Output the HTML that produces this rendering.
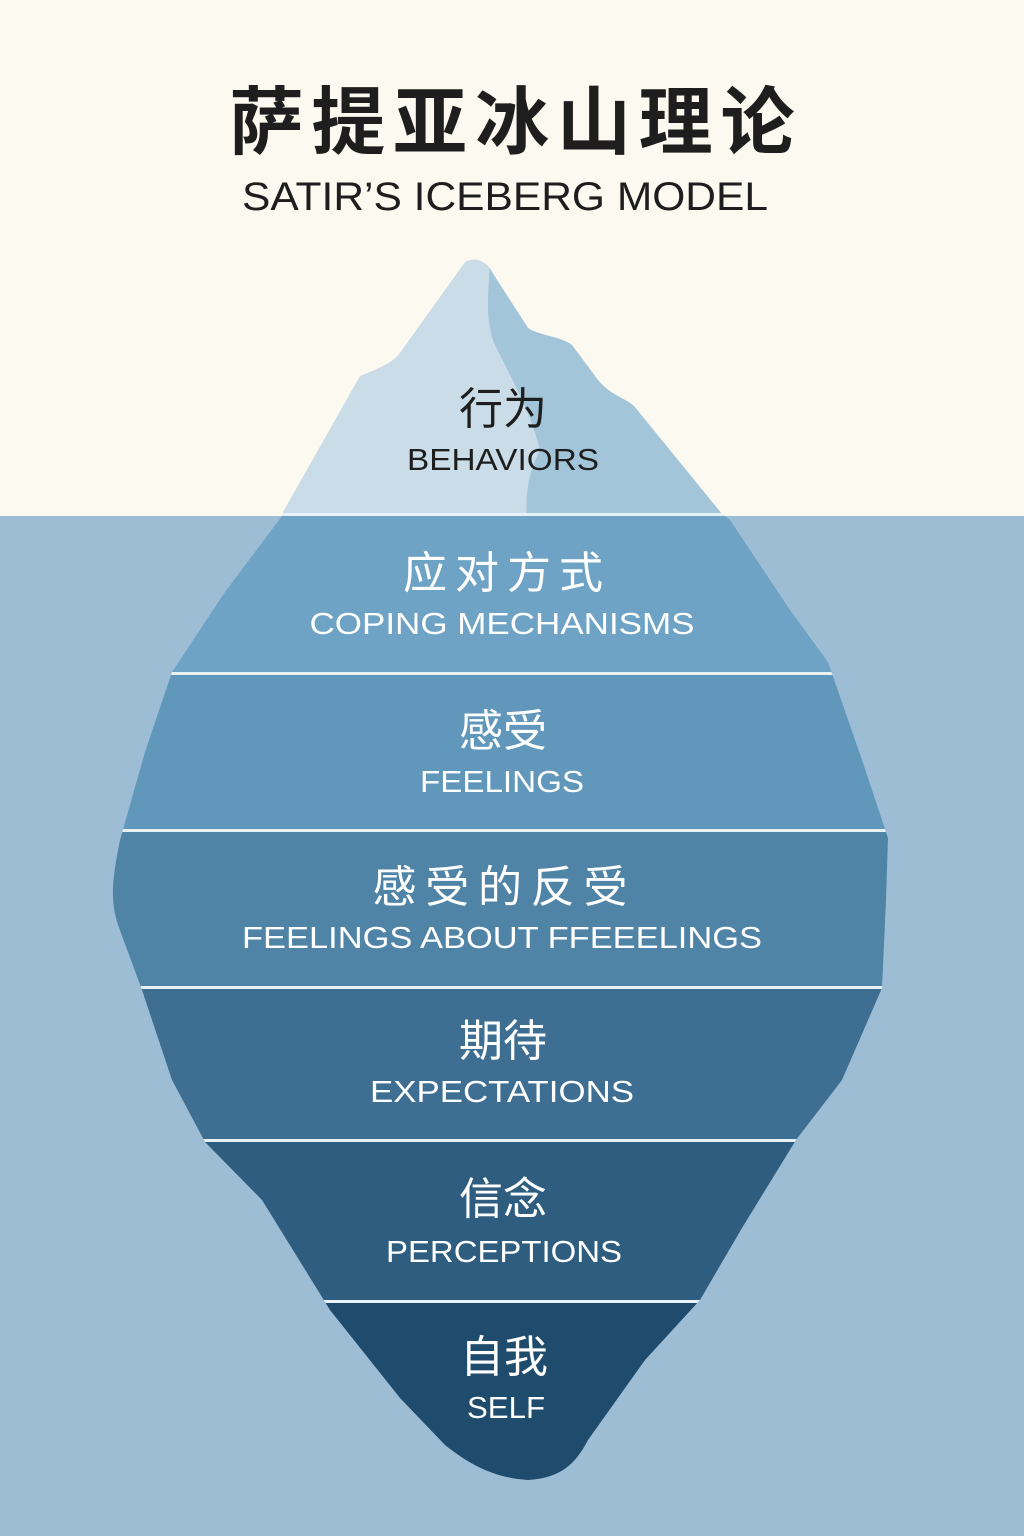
<!DOCTYPE html>
<html><head><meta charset="utf-8"><style>
html,body{margin:0;padding:0;width:1024px;height:1536px;overflow:hidden;background:#fcf9f0}
svg{display:block}
.cn{font-family:"Liberation Sans","Noto Sans CJK SC",sans-serif;text-anchor:middle}
.en{font-family:"Liberation Sans","Noto Sans CJK SC",sans-serif;text-anchor:middle}
</style></head><body>
<svg width="1024" height="1536" viewBox="0 0 1024 1536" xmlns="http://www.w3.org/2000/svg">
<defs>
<clipPath id="berg">
<path d="M465,262 C475,256 488,262 492,272 L528,328 C540,336 560,336 572,345 L598,380 C610,395 625,398 634,406 L722,514 L730,520 L790,610 L828,662 L862,760 L888,838 L886,900 L882,988 L842,1080 L796,1140 L742,1228 L700,1300 L645,1360 L588,1440 C575,1465 560,1478 528,1480 C495,1478 470,1465 445,1445 L400,1398 L330,1310 L262,1200 L205,1142 L172,1080 L142,990 L118,925 C110,900 112,880 120,840 L145,752 L172,672 L225,592 L282,516 L283,512 L360,376 C380,368 395,362 402,350 Z"/>
</clipPath>
</defs>
<rect x="0" y="0" width="1024" height="516" fill="#fcf9f0"/>
<rect x="0" y="516" width="1024" height="1020" fill="#9dbdd4"/>
<g clip-path="url(#berg)">
<rect x="0" y="240" width="1024" height="276" fill="#c9dce8"/>
<path d="M490,262 C488,300 485,320 495,345 C512,380 530,410 540,450 C530,470 525,490 527,516 L760,516 L760,240 Z" fill="#a3c5da"/>
<rect x="0" y="516" width="1024" height="156" fill="#6ea3c5"/>
<rect x="0" y="672" width="1024" height="158" fill="#6197bb"/>
<rect x="0" y="830" width="1024" height="158" fill="#4f84a7"/>
<rect x="0" y="988" width="1024" height="152" fill="#3e6f92"/>
<rect x="0" y="1140" width="1024" height="162" fill="#2e5d80"/>
<rect x="0" y="1302" width="1024" height="200" fill="#1f4b6d"/>
<g fill="#e8f1f6">
<rect x="0" y="513" width="1024" height="3"/>
<rect x="0" y="672" width="1024" height="3"/>
<rect x="0" y="829" width="1024" height="3"/>
<rect x="0" y="986" width="1024" height="3"/>
<rect x="0" y="1139" width="1024" height="3"/>
<rect x="0" y="1300" width="1024" height="3"/>
</g>
</g>
<text class="cn" x="512" y="148" font-size="74" font-weight="bold" fill="#1e1e1e" textLength="565" lengthAdjust="spacing">萨提亚冰山理论</text>
<text class="en" x="505" y="210" font-size="40" fill="#1e1e1e" textLength="526" lengthAdjust="spacingAndGlyphs">SATIR’S ICEBERG MODEL</text>

<text class="cn" x="503" y="424" font-size="44" fill="#1e1e1e">行为</text>
<text class="en" x="503" y="470" font-size="31" fill="#1e1e1e" textLength="192" lengthAdjust="spacingAndGlyphs">BEHAVIORS</text>

<text class="cn" x="503" y="588" font-size="44" fill="#fff" textLength="200" lengthAdjust="spacing">应对方式</text>
<text class="en" x="502" y="634" font-size="31" fill="#fff" textLength="385" lengthAdjust="spacingAndGlyphs">COPING MECHANISMS</text>

<text class="cn" x="503" y="746" font-size="44" fill="#fff">感受</text>
<text class="en" x="502" y="792" font-size="31" fill="#fff" textLength="164" lengthAdjust="spacingAndGlyphs">FEELINGS</text>

<text class="cn" x="500" y="902" font-size="44" fill="#fff" textLength="255" lengthAdjust="spacing">感受的反受</text>
<text class="en" x="502" y="948" font-size="31" fill="#fff" textLength="520" lengthAdjust="spacingAndGlyphs">FEELINGS ABOUT FFEEELINGS</text>

<text class="cn" x="503" y="1056" font-size="44" fill="#fff">期待</text>
<text class="en" x="502" y="1102" font-size="31" fill="#fff" textLength="264" lengthAdjust="spacingAndGlyphs">EXPECTATIONS</text>

<text class="cn" x="503" y="1214" font-size="44" fill="#fff">信念</text>
<text class="en" x="504" y="1262" font-size="31" fill="#fff" textLength="236" lengthAdjust="spacingAndGlyphs">PERCEPTIONS</text>

<text class="cn" x="504" y="1372" font-size="44" fill="#fff">自我</text>
<text class="en" x="506" y="1418" font-size="31" fill="#fff" textLength="78" lengthAdjust="spacingAndGlyphs">SELF</text>
</svg>
</body></html>
